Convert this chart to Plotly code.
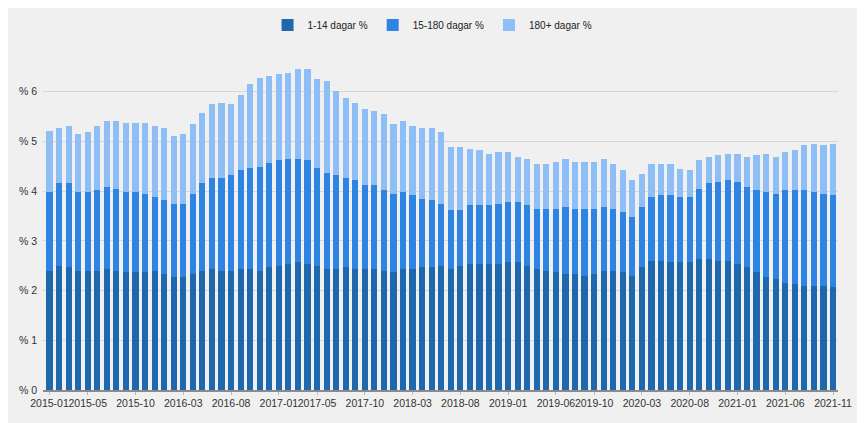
import plotly.graph_objects as go

months = [f"{y}-{m:02d}" for y in range(2015, 2022) for m in range(1, 13)][:83]

tick_labels = ["2015-01", "2015-05", "2015-10", "2016-03", "2016-08", "2017-01",
               "2017-05", "2017-10", "2018-03", "2018-08", "2019-01", "2019-06",
               "2019-10", "2020-03", "2020-08", "2021-01", "2021-06", "2021-11"]

s_1_14 = [2.40, 2.50, 2.47, 2.40, 2.40, 2.40, 2.43, 2.40, 2.37, 2.37, 2.37, 2.40, 2.33, 2.27,
          2.27, 2.33, 2.40, 2.43, 2.40, 2.40, 2.43, 2.43, 2.40, 2.47, 2.50, 2.53, 2.57, 2.53,
          2.50, 2.43, 2.43, 2.47, 2.43, 2.43, 2.43, 2.40, 2.37, 2.43, 2.43, 2.47, 2.47, 2.50,
          2.43, 2.50, 2.53, 2.53, 2.53, 2.53, 2.57, 2.57, 2.50, 2.43, 2.40, 2.37, 2.33, 2.33,
          2.30, 2.33, 2.40, 2.40, 2.37, 2.29, 2.47, 2.60, 2.60, 2.57, 2.57, 2.57, 2.63, 2.63,
          2.60, 2.60, 2.53, 2.47, 2.37, 2.27, 2.23, 2.16, 2.13, 2.10, 2.10, 2.10, 2.08]

s_15_180 = [1.59, 1.66, 1.69, 1.59, 1.59, 1.62, 1.66, 1.65, 1.62, 1.62, 1.58, 1.49, 1.49, 1.48,
            1.48, 1.62, 1.76, 1.83, 1.86, 1.92, 1.99, 2.03, 2.09, 2.09, 2.12, 2.11, 2.07, 2.09,
            1.96, 1.93, 1.89, 1.79, 1.79, 1.69, 1.69, 1.62, 1.58, 1.56, 1.49, 1.38, 1.35, 1.25,
            1.19, 1.12, 1.19, 1.19, 1.19, 1.22, 1.22, 1.22, 1.22, 1.22, 1.25, 1.28, 1.36, 1.32,
            1.35, 1.32, 1.29, 1.25, 1.22, 1.20, 1.22, 1.29, 1.32, 1.35, 1.32, 1.32, 1.42, 1.53,
            1.59, 1.62, 1.66, 1.62, 1.65, 1.72, 1.72, 1.86, 1.89, 1.92, 1.89, 1.85, 1.84]

s_180 = [1.22, 1.12, 1.16, 1.17, 1.20, 1.30, 1.33, 1.37, 1.39, 1.39, 1.43, 1.43, 1.46, 1.37,
         1.41, 1.40, 1.42, 1.49, 1.52, 1.43, 1.52, 1.69, 1.79, 1.75, 1.73, 1.74, 1.81, 1.83,
         1.79, 1.85, 1.69, 1.62, 1.56, 1.53, 1.50, 1.53, 1.40, 1.43, 1.40, 1.43, 1.46, 1.44,
         1.26, 1.26, 1.13, 1.10, 1.03, 1.04, 1.00, 0.90, 0.93, 0.90, 0.90, 0.93, 0.96, 0.93,
         0.93, 0.93, 0.96, 0.90, 0.83, 0.73, 0.66, 0.66, 0.63, 0.63, 0.56, 0.53, 0.57, 0.53,
         0.53, 0.53, 0.56, 0.60, 0.70, 0.76, 0.74, 0.77, 0.80, 0.90, 0.96, 0.97, 1.03]

y_ticks = [0, 1, 2, 3, 4, 5, 6]

series = [("1-14 dagar %", s_1_14, "#1f68ae"),
          ("15-180 dagar %", s_15_180, "#2e84e2"),
          ("180+ dagar %", s_180, "#8dbef5")]

fig = go.Figure()
for name, vals, col in series:
    fig.add_trace(go.Bar(x=months, y=vals, name=name, marker=dict(color=col, line=dict(width=0))))

# the page body adds an 8px white margin at top and left; figure runs to the window edge
W, H = 857, 415
ml, mr, mt, mb = 35, 27, 52, 33
pw, ph = W - ml - mr, H - mt - mb

fig.update_layout(
    width=W, height=H,
    margin=dict(l=ml, r=mr, t=mt, b=mb, pad=0, autoexpand=False),
    barmode="stack", bargap=0.35,
    paper_bgcolor="#f0f0f0", plot_bgcolor="#f0f0f0",
    font=dict(family="Liberation Sans", size=10.5, color="#333333"),
    legend=dict(orientation="h", x=0.49, xanchor="center",
                yref="container", y=1 - 17 / H, yanchor="middle",
                font=dict(size=10, color="#222222"), itemwidth=30, traceorder="normal",
                bgcolor="rgba(0,0,0,0)"),
    xaxis=dict(type="category", range=[-0.68, 82.52], tickmode="array",
               tickvals=tick_labels, ticktext=tick_labels, tickangle=0,
               showgrid=False, showline=True, linecolor="#8a8a8a", linewidth=1.5,
               ticks="outside", ticklen=3, tickcolor="#bbbbbb", zeroline=False),
    yaxis=dict(range=[0, 6.64], tickvals=y_ticks, ticktext=[f"% {v}" for v in y_ticks],
               showgrid=True, gridcolor="#d6d6d6", gridwidth=1, zeroline=False,
               showline=False, ticks="", ticklabelstandoff=5),
)

fig.write_html("out.html")
